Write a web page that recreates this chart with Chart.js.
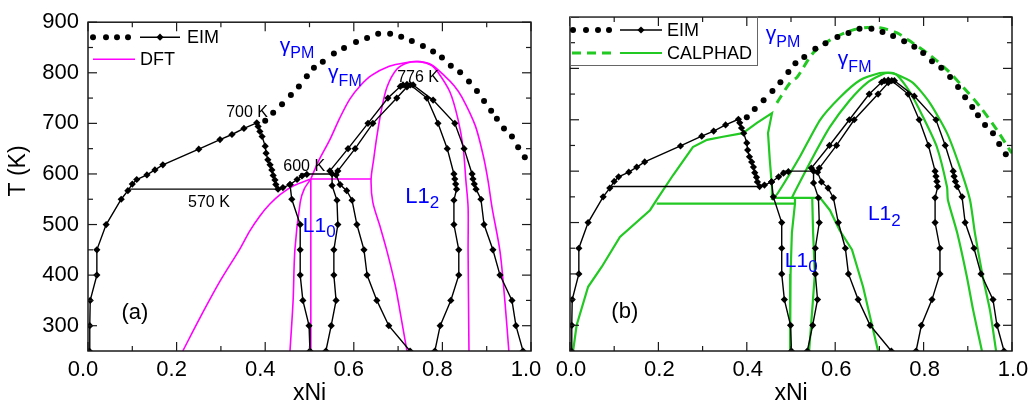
<!DOCTYPE html>
<html><head><meta charset="utf-8">
<script src="https://cdn.jsdelivr.net/npm/chart.js@4.4.0/dist/chart.umd.min.js"></script>
<style>
html,body{margin:0;padding:0;background:#fff;}
#wrap{position:relative;width:1034px;height:406px;background:#fff;}
.layer{position:absolute;left:0;top:0;width:1034px;height:406px;}
</style></head><body>
<div id="wrap"><div class="layer"><canvas id="ca"></canvas></div><div class="layer"><canvas id="cb"></canvas></div></div>
<script>
// ---------- axis ticks ----------
const xTicks = [0, 0.2, 0.4, 0.6, 0.8, 1.0];
const xMinor = [0.1, 0.3, 0.5, 0.7, 0.9];
const yTicks = [300, 400, 500, 600, 700, 800, 900];
const yMinor = [350, 450, 550, 650, 750, 850];

// ---------- EIM (both panels) ----------
const eimCurie = [[0.400,705],[0.418,721],[0.438,738],[0.458,756],[0.476,773],[0.494,793],[0.510,810],[0.530,822],[0.555,838],[0.578,849],[0.605,861],[0.630,869],[0.655,877],[0.682,877],[0.707,871],[0.731,863],[0.756,853],[0.779,842],[0.799,830],[0.819,814],[0.840,801],[0.860,783],[0.878,764],[0.894,744],[0.910,725],[0.923,709],[0.939,690],[0.957,674],[0.971,653],[0.986,633]];
const eimLeft = [[0.003,250],[0.004,300],[0.005,350],[0.020,400],[0.020,450],[0.041,500],[0.075,550],[0.090,567],[0.100,580],[0.110,589],[0.133,598],[0.151,608],[0.169,618],[0.250,649],[0.298,668],[0.325,678],[0.352,690],[0.381,701],[0.384,694],[0.388,684],[0.393,674],[0.400,655],[0.402,641],[0.406,628],[0.411,618],[0.415,608],[0.418,597],[0.422,588],[0.424,579],[0.429,570],[0.440,573],[0.456,579],[0.472,589],[0.483,596],[0.494,599]];
const eimL10Left = [[0.456,579],[0.460,550],[0.479,500],[0.479,450],[0.479,400],[0.485,350],[0.499,300],[0.501,250]];
const eimL10Right = [[0.551,600],[0.551,577],[0.562,548],[0.564,500],[0.555,450],[0.555,400],[0.560,350],[0.549,300],[0.537,250]];
const eimL12Low = [[0.560,598],[0.569,579],[0.584,567],[0.596,548],[0.607,500],[0.623,450],[0.630,400],[0.652,350],[0.679,300],[0.727,250]];
const eimDome1 = [[0.546,606],[0.587,650],[0.632,700],[0.677,750],[0.705,773],[0.711,776],[0.720,777],[0.728,776],[0.765,750],[0.790,700],[0.811,650],[0.826,600],[0.828,590],[0.830,580],[0.832,570],[0.826,548],[0.826,500],[0.837,450],[0.837,400],[0.819,350],[0.795,300],[0.783,250]];
const eimDome2 = [[0.564,606],[0.603,650],[0.643,700],[0.697,750],[0.720,772],[0.734,776],[0.779,746],[0.828,700],[0.849,650],[0.867,600],[0.869,590],[0.872,580],[0.876,570],[0.887,550],[0.894,500],[0.914,450],[0.930,400],[0.957,350],[0.966,300],[0.982,250]];
const eimH570 = [[0.095,570],[0.429,570]];
const eimH600 = [[0.479,600],[0.551,600]];

// ---------- DFT (panel a) ----------
const dftLow = [[0.214,250],[0.253,316],[0.298,388],[0.343,452],[0.365,487],[0.388,517],[0.410,540],[0.435,560],[0.465,577],[0.503,590]];
const dftOuter = [[0.503,590],[0.520,625],[0.546,668],[0.568,710],[0.591,748],[0.615,775],[0.640,795],[0.680,813],[0.716,820],[0.745,822],[0.775,816],[0.806,793],[0.826,775],[0.844,752],[0.874,696],[0.892,637],[0.903,587],[0.912,534],[0.930,447],[0.941,349],[0.950,250]];
const dftInner = [[0.720,250],[0.704,330],[0.693,382],[0.675,447],[0.659,497],[0.643,544],[0.639,589],[0.645,630],[0.652,674],[0.662,725],[0.675,772],[0.697,807],[0.722,820],[0.750,822],[0.775,815],[0.790,801],[0.817,762],[0.835,709],[0.847,651],[0.853,587],[0.858,534],[0.858,447],[0.860,250]];
const dftL10Left = [[0.456,250],[0.463,350],[0.467,450],[0.479,544],[0.488,570],[0.503,590]];
const dftL10Right = [[0.503,250],[0.503,590]];
const dftH590 = [[0.503,590],[0.639,590]];

// ---------- CALPHAD (panel b) ----------
const calMag = [[0.468,733],[0.498,772],[0.514,783],[0.550,830],[0.588,855],[0.627,871],[0.663,879],[0.701,879],[0.740,869],[0.776,849],[0.814,826],[0.853,797],[0.889,764],[0.928,725],[0.966,680],[0.995,641],[1.000,635]];
const calLeft = [[0.007,250],[0.015,300],[0.041,375],[0.072,414],[0.113,472],[0.181,524],[0.196,544],[0.233,592],[0.278,647],[0.310,661],[0.346,667],[0.391,674],[0.423,694],[0.457,713],[0.448,674],[0.452,622],[0.457,569],[0.457,544]];
const calH537 = [[0.196,537],[0.509,537]];
const calH548 = [[0.457,548],[0.566,548]];
const calL10Left = [[0.509,548],[0.509,537],[0.502,480],[0.499,400],[0.498,250]];
const calL10Right = [[0.548,548],[0.550,480],[0.554,400],[0.548,330],[0.541,250]];
const calL12Low = [[0.566,548],[0.588,524],[0.610,485],[0.638,447],[0.663,375],[0.697,250]];
const calOuter = [[0.457,544],[0.470,557],[0.520,628],[0.566,700],[0.611,744],[0.656,777],[0.701,791],[0.720,792],[0.731,791],[0.776,772],[0.814,733],[0.853,674],[0.882,608],[0.905,544],[0.916,480],[0.934,394],[0.950,330],[0.964,250]];
const calInner = [[0.502,548],[0.507,557],[0.550,628],[0.588,686],[0.633,738],[0.672,772],[0.708,789],[0.720,791],[0.740,787],[0.769,754],[0.799,705],[0.830,647],[0.853,569],[0.855,544],[0.876,480],[0.898,394],[0.912,330],[0.932,250]];

// ---------- styles ----------
const FF = '"Liberation Sans", Arial, Helvetica, sans-serif';
const MAG = '#ff00ff', GRN = '#22c922', BLU = '#0000ff';
const P = a => a.map(([x, y]) => ({x, y}));

function eimSets() {
  const lines = [eimLeft, eimL10Left, eimL10Right, eimL12Low, eimDome1, eimDome2].map(a => ({
    data: P(a), showLine: true, borderColor: '#000', borderWidth: 1.4, tension: 0,
    pointStyle: 'rectRot', pointRadius: 3.6, pointBackgroundColor: '#000', pointBorderColor: '#000', pointBorderWidth: 0
  }));
  const hs = [eimH570, eimH600].map(a => ({data: P(a), showLine: true, borderColor: '#000', borderWidth: 1.4, pointRadius: 0}));
  return [{data: P(eimCurie), showLine: false, pointStyle: 'circle', pointRadius: 3, pointBackgroundColor: '#000', pointBorderWidth: 0}, ...lines, ...hs];
}
function lineSet(a, color, w, t, dash) {
  return {data: P(a), showLine: true, borderColor: color, borderWidth: w, tension: t, pointRadius: 0, borderDash: dash || []};
}

function scalesCfg(showY, yWidth, labelOffset) {
  return {
    x: {type: 'linear', min: 0, max: 1,
      afterBuildTicks: s => { s.ticks = xTicks.map(v => ({value: v})); },
      afterFit: s => { s.height = 55; },
      grid: {display: false, drawTicks: false}, border: {display: false},
      ticks: {padding: 6, labelOffset: labelOffset, font: {family: FF, size: 22}, color: '#000', maxRotation: 0, autoSkip: false,
        callback: v => Number(v).toFixed(1)}},
    y: {type: 'linear', min: 250, max: 900,
      afterBuildTicks: s => { s.ticks = yTicks.map(v => ({value: v})); },
      afterFit: s => { s.width = yWidth; },
      grid: {display: false, drawTicks: false}, border: {display: false},
      ticks: {display: showY, padding: 9, font: {family: FF, size: 22}, color: '#000', autoSkip: false}}
  };
}

function diamond(ctx, x, y, r) {
  ctx.beginPath(); ctx.moveTo(x, y - r); ctx.lineTo(x + r, y); ctx.lineTo(x, y + r); ctx.lineTo(x - r, y); ctx.closePath(); ctx.fill();
}
function seg(ctx, x1, y1, x2, y2) { ctx.beginPath(); ctx.moveTo(x1, y1); ctx.lineTo(x2, y2); ctx.stroke(); }

function decoPlugin(cfg) {
  return {
    id: 'deco',
    afterDraw(chart) {
      const {ctx, chartArea: {left, right, top, bottom}} = chart;
      const xs = chart.scales.x, ys = chart.scales.y;
      ctx.save();
      // frame + inward ticks
      ctx.strokeStyle = '#1a1a1a'; ctx.lineWidth = 1.5;
      ctx.strokeRect(left, top, right - left, bottom - top);
      ctx.lineWidth = 1.2;
      xTicks.forEach(v => { const p = xs.getPixelForValue(v); seg(ctx, p, bottom, p, bottom - 9); seg(ctx, p, top, p, top + 9); });
      xMinor.forEach(v => { const p = xs.getPixelForValue(v); seg(ctx, p, bottom, p, bottom - 5); seg(ctx, p, top, p, top + 5); });
      yTicks.forEach(v => { const p = ys.getPixelForValue(v); seg(ctx, left, p, left + 9, p); seg(ctx, right, p, right - 9, p); });
      yMinor.forEach(v => { const p = ys.getPixelForValue(v); seg(ctx, left, p, left + 5, p); seg(ctx, right, p, right - 5, p); });

      // text annotations
      cfg.labels.forEach(L => {
        const px = xs.getPixelForValue(L.x), py = ys.getPixelForValue(L.y);
        ctx.fillStyle = L.c || '#000';
        ctx.textBaseline = 'alphabetic';
        ctx.font = L.s + 'px ' + FF;
        ctx.textAlign = L.align || 'left';
        ctx.fillText(L.t, px, py);
        if (L.sub) {
          const w = ctx.measureText(L.t).width;
          ctx.font = L.ss + 'px ' + FF;
          ctx.textAlign = 'left';
          ctx.fillText(L.sub, px + w, py + L.dy);
        }
      });

      // axis titles
      ctx.fillStyle = '#000';
      ctx.font = '23px ' + FF; ctx.textAlign = 'center'; ctx.textBaseline = 'alphabetic';
      ctx.fillText('xNi', (left + right) / 2, 400);
      if (cfg.yTitle) {
        ctx.save(); ctx.translate(25, 171); ctx.rotate(-Math.PI / 2);
        ctx.fillText('T (K)', 0, 0); ctx.restore();
      }

      // legend
      const lg = cfg.legend;
      ctx.fillStyle = '#000';
      const y1 = top + lg.y1, y2 = top + lg.y2;
      if (lg.box) { ctx.strokeStyle = '#666'; ctx.lineWidth = 1; ctx.strokeRect(left + 0.5, top - 0.5, 187, 49); }
      lg.dots.forEach(d => { ctx.beginPath(); ctx.arc(left + d, y1, 3, 0, Math.PI * 2); ctx.fill(); });
      ctx.strokeStyle = '#000'; ctx.lineWidth = 1.4; seg(ctx, left + lg.l0, y1, left + lg.l1, y1);
      diamond(ctx, left + (lg.l0 + lg.l1) / 2, y1, 3.6);
      ctx.font = '18px ' + FF; ctx.textAlign = 'left'; ctx.textBaseline = 'middle';
      ctx.fillText('EIM', left + lg.tx1, y1 + 1);
      if (lg.box) {
        ctx.strokeStyle = GRN; ctx.lineWidth = 3; ctx.setLineDash([9, 6]);
        seg(ctx, left + 2, y2, left + 47, y2); ctx.setLineDash([]);
        ctx.lineWidth = 2.2; seg(ctx, left + lg.l0, y2, left + lg.l1, y2);
        ctx.fillText('CALPHAD', left + lg.tx1, y2 + 1);
      } else {
        ctx.strokeStyle = MAG; ctx.lineWidth = 1.5; seg(ctx, left + 5, y2, left + 47, y2);
        ctx.fillText('DFT', left + 52, y2 + 1);
      }
      ctx.restore();
    }
  };
}

const labelsA = [
  {t: 'γ', sub: 'PM', x: 0.433, y: 841.6, s: 21, ss: 16, dy: 6, c: BLU},
  {t: 'γ', sub: 'FM', x: 0.542, y: 787.1, s: 21, ss: 16, dy: 7, c: BLU},
  {t: 'L1', sub: '2', x: 0.716, y: 541.9, s: 22, ss: 17, dy: 5, c: BLU},
  {t: 'L1', sub: '0', x: 0.485, y: 485.4, s: 21, ss: 17, dy: 5, c: BLU},
  {t: '(a)', x: 0.106, y: 314.2, s: 22, align: 'center'},
  {t: '700 K', x: 0.359, y: 713.2, s: 16, align: 'center'},
  {t: '570 K', x: 0.273, y: 534.1, s: 16, align: 'center'},
  {t: '600 K', x: 0.488, y: 606.1, s: 16, align: 'center'},
  {t: '776 K', x: 0.745, y: 781.3, s: 16, align: 'center'}
];
const labelsB = [
  {t: 'γ', sub: 'PM', x: 0.443, y: 855.2, s: 21, ss: 16, dy: 7, c: BLU},
  {t: 'γ', sub: 'FM', x: 0.606, y: 806.6, s: 21, ss: 16, dy: 7, c: BLU},
  {t: 'L1', sub: '2', x: 0.674, y: 504.9, s: 21, ss: 17, dy: 6, c: BLU},
  {t: 'L1', sub: '0', x: 0.486, y: 413.4, s: 21, ss: 17, dy: 5, c: BLU},
  {t: '(b)', x: 0.124, y: 314.2, s: 22, align: 'center'}
];

Chart.defaults.font.family = FF;

new Chart(document.getElementById('ca'), {
  type: 'scatter',
  data: {datasets: [
    ...eimSets(),
    lineSet(dftLow, MAG, 1.6, 0.3), lineSet(dftOuter, MAG, 1.6, 0.3), lineSet(dftInner, MAG, 1.6, 0.3),
    lineSet(dftL10Left, MAG, 1.6, 0.3), lineSet(dftL10Right, MAG, 1.6, 0), lineSet(dftH590, MAG, 1.6, 0)
  ]},
  options: {
    responsive: true, maintainAspectRatio: false, animation: false, events: [],
    layout: {padding: {left: 0, top: 17, right: 1034 - 531, bottom: 0}},
    plugins: {legend: {display: false}, tooltip: {enabled: false}},
    scales: scalesCfg(true, 88, -5)
  },
  plugins: [decoPlugin({labels: labelsA, yTitle: true,
    legend: {box: false, y1: 15, y2: 37, dots: [5, 18, 29, 40], l0: 52, l1: 92, tx1: 99}})]
});

new Chart(document.getElementById('cb'), {
  type: 'scatter',
  data: {datasets: [
    ...eimSets(),
    lineSet(calMag, GRN, 3, 0.3, [9, 6]),
    lineSet(calLeft, GRN, 2.2, 0), lineSet(calH537, GRN, 2.2, 0), lineSet(calH548, GRN, 2.2, 0),
    lineSet(calL10Left, GRN, 2.2, 0), lineSet(calL10Right, GRN, 2.2, 0), lineSet(calL12Low, GRN, 2.2, 0),
    lineSet(calOuter, GRN, 2.2, 0.2), lineSet(calInner, GRN, 2.2, 0.2)
  ]},
  options: {
    responsive: true, maintainAspectRatio: false, animation: false, events: [],
    layout: {padding: {left: 0, top: 17, right: 1034 - 1012, bottom: 0}},
    plugins: {legend: {display: false}, tooltip: {enabled: false}},
    scales: scalesCfg(false, 570, 1)
  },
  plugins: [decoPlugin({labels: labelsB, yTitle: false,
    legend: {box: true, y1: 13, y2: 36, dots: [3, 16, 28, 39], l0: 50, l1: 92, tx1: 97}})]
});
</script>
</body></html>
